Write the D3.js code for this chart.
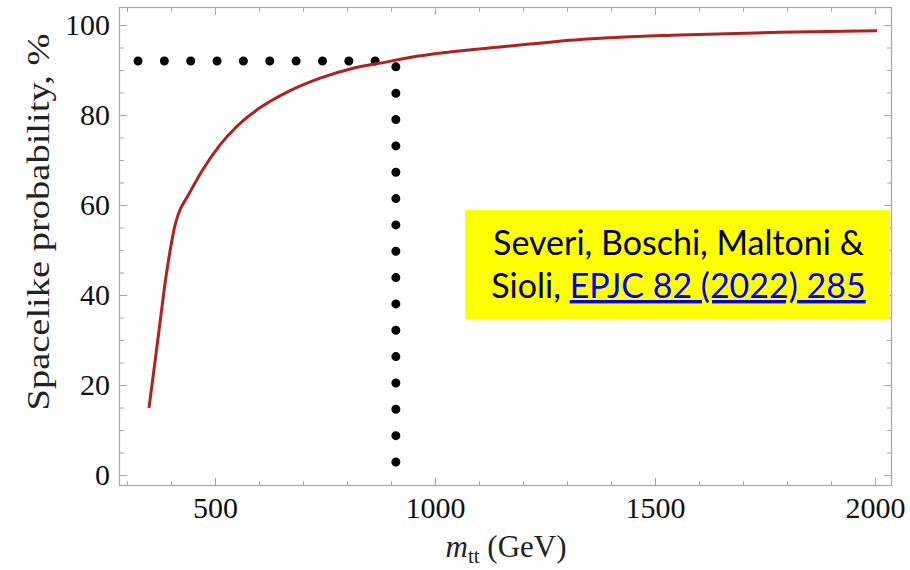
<!DOCTYPE html>
<html>
<head>
<meta charset="utf-8">
<script src="https://cdn.jsdelivr.net/npm/d3@7"></script>
<style>
  body { margin: 0; background: #fff; }
  svg { display: block; }
</style>
</head>
<body>
<svg id="chart" width="910" height="570"></svg>
<script>
// Spacelike probability as a function of the t-tbar invariant mass
const massGeV     = [350, 370, 390, 400, 408, 416, 440, 470, 511, 550, 602, 664, 739, 814, 891, 943, 1034, 1148, 1330, 1557, 1784, 2005];
const probability = [14.9, 30, 45, 51, 55, 57.8, 62.3, 67.5, 73.3, 77.5, 81.6, 85.1, 88.2, 90.4, 91.8, 92.8, 94, 95.1, 96.8, 97.8, 98.4, 98.7];

// Reference guides: 92% probability, reached around 911 GeV
const guideHMass = [325, 864];
const guideHProb = [92, 92];
const guideVMass = [911, 911];
const guideVProb = [90.7, 2.9];

const xTickValues = [500, 1000, 1500, 2000];
const xMinorValues = d3.range(300, 2001, 100);
const yTickValues = [0, 20, 40, 60, 80, 100];
const yMinorValues = d3.range(0, 101, 5);

const svg = d3.select("#chart");
const frame = { left: 119, right: 892, top: 7, bottom: 486 };

const x = d3.scaleLinear().domain([281.8, 2038.6]).range([frame.left, frame.right]);
const y = d3.scaleLinear().domain([-2.44, 104]).range([frame.bottom, frame.top]);

const frameColor = "#a6a6a6";
const serif = "'Liberation Serif', 'DejaVu Serif', serif";

// Frame ticks on all four sides, pointing inward
function styleAxis(g) {
  g.select(".domain").remove();
  g.selectAll(".tick line").attr("stroke", frameColor).attr("stroke-width", 1);
  g.selectAll(".tick text").attr("fill", "#111").attr("font-family", serif).attr("font-size", 30);
}

// minor ticks
svg.append("g").attr("transform", `translate(0,${frame.bottom})`)
  .call(d3.axisBottom(x).tickValues(xMinorValues).tickSize(-5).tickFormat(""))
  .call(styleAxis);
svg.append("g").attr("transform", `translate(0,${frame.top})`)
  .call(d3.axisTop(x).tickValues(xMinorValues).tickSize(-5).tickFormat(""))
  .call(styleAxis);
svg.append("g").attr("transform", `translate(${frame.left},0)`)
  .call(d3.axisLeft(y).tickValues(yMinorValues).tickSize(-5).tickFormat(""))
  .call(styleAxis);
svg.append("g").attr("transform", `translate(${frame.right},0)`)
  .call(d3.axisRight(y).tickValues(yMinorValues).tickSize(-5).tickFormat(""))
  .call(styleAxis);

// major ticks with labels on bottom and left
svg.append("g").attr("transform", `translate(0,${frame.bottom})`)
  .call(d3.axisBottom(x).tickValues(xTickValues).tickFormat(d3.format("d")).tickSizeInner(-8).tickPadding(11))
  .call(styleAxis);
svg.append("g").attr("transform", `translate(0,${frame.top})`)
  .call(d3.axisTop(x).tickValues(xTickValues).tickSize(-8).tickFormat(""))
  .call(styleAxis);
svg.append("g").attr("transform", `translate(${frame.left},0)`)
  .call(d3.axisLeft(y).tickValues(yTickValues).tickFormat(d3.format("d")).tickSizeInner(-8).tickPadding(9))
  .call(styleAxis);
svg.append("g").attr("transform", `translate(${frame.right},0)`)
  .call(d3.axisRight(y).tickValues(yTickValues).tickSize(-8).tickFormat(""))
  .call(styleAxis);

// frame
svg.append("rect")
  .attr("x", frame.left + 0.5).attr("y", frame.top + 0.5)
  .attr("width", frame.right - frame.left - 1).attr("height", frame.bottom - frame.top - 1)
  .attr("fill", "none").attr("stroke", frameColor).attr("stroke-width", 1.2);

// dotted guide lines
const guideLine = d3.line().x(d => x(d[0])).y(d => y(d[1]));
function dotted(ms, ps, gaps) {
  const pts = ms.map((m, i) => [m, ps[i]]);
  const len = Math.hypot(x(pts[1][0]) - x(pts[0][0]), y(pts[1][1]) - y(pts[0][1]));
  svg.append("path")
    .attr("d", guideLine(pts))
    .attr("fill", "none").attr("stroke", "#000")
    .attr("stroke-width", 9).attr("stroke-linecap", "round")
    .attr("stroke-dasharray", `0 ${len / gaps}`);
}
dotted(guideHMass, guideHProb, 9);
dotted(guideVMass, guideVProb, 15);

// probability curve
const curve = d3.line()
  .x((d, i) => x(massGeV[i]))
  .y((d, i) => y(probability[i]))
  .curve(d3.curveMonotoneX);
svg.append("path")
  .datum(massGeV)
  .attr("d", curve)
  .attr("fill", "none")
  .attr("stroke", "#b3211e")
  .attr("stroke-width", 3)
  .attr("stroke-linejoin", "round");

// axis titles
svg.append("text")
  .attr("transform", `translate(49,222) rotate(-90)`)
  .attr("text-anchor", "middle")
  .attr("font-family", serif).attr("font-size", 32).attr("fill", "#222")
  .attr("textLength", 377).attr("lengthAdjust", "spacingAndGlyphs")
  .text("Spacelike probability, %");

const xt = svg.append("text")
  .attr("x", 506).attr("y", 557)
  .attr("text-anchor", "middle")
  .attr("font-family", serif).attr("font-size", 31).attr("fill", "#222");
xt.append("tspan").attr("font-style", "italic").text("m");
xt.append("tspan").attr("font-size", 21).attr("dy", 6).text("tt");
xt.append("tspan").attr("dy", -6).text(" (GeV)");

// citation box
const box = { x: 465, y: 210, w: 425, h: 109 };
svg.append("rect")
  .attr("x", box.x).attr("y", box.y).attr("width", box.w).attr("height", box.h)
  .attr("fill", "#ffff00");
const sans = "Lato, 'Open Sans', sans-serif";
svg.append("text")
  .attr("x", box.x + box.w / 2 + 1).attr("y", 255)
  .attr("text-anchor", "middle")
  .attr("font-family", sans).attr("font-size", 34).attr("fill", "#000")
  .text("Severi, Boschi, Maltoni &");
const l2 = svg.append("text")
  .attr("x", box.x + box.w / 2 + 1).attr("y", 298)
  .attr("text-anchor", "middle")
  .attr("font-family", sans).attr("font-size", 34).attr("fill", "#000");
l2.append("tspan").text("Sioli, ");
l2.append("tspan").attr("fill", "#0000ff").attr("text-decoration", "underline")
  .text("EPJC 82 (2022) 285");
</script>
</body>
</html>
